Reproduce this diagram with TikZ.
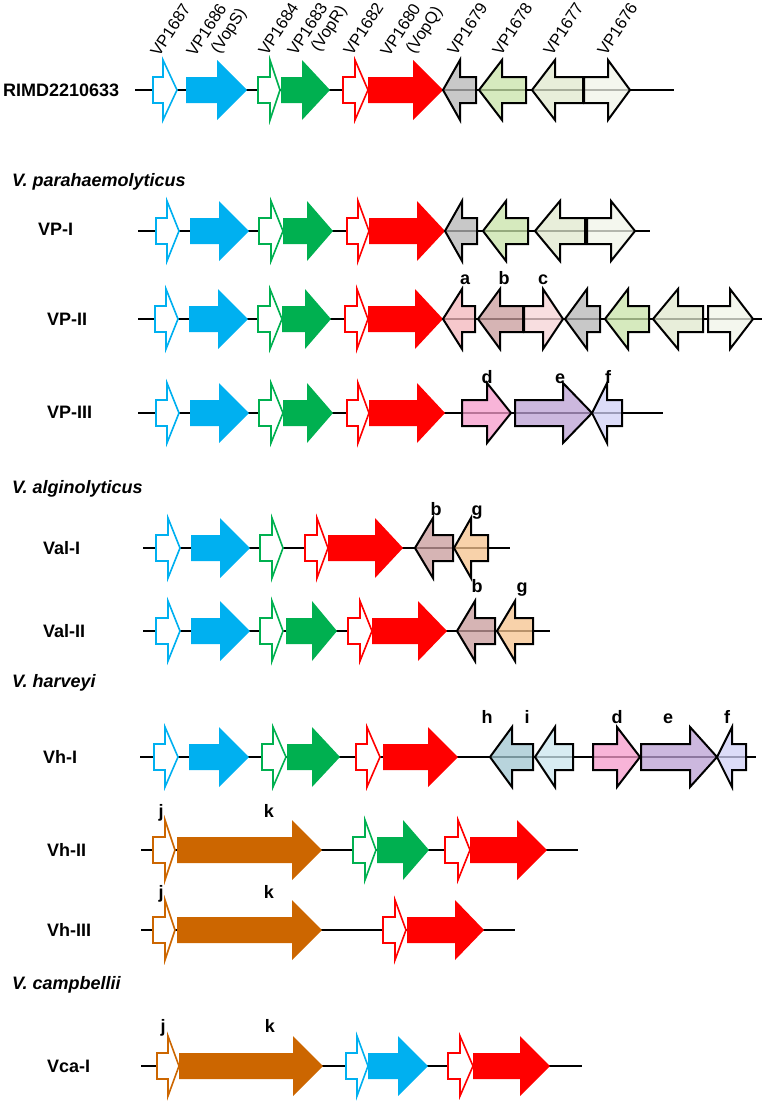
\documentclass[tikz,border=0pt]{standalone}
\usepackage{fontspec}
\setmainfont{Liberation Sans}
\definecolor{cblue}{RGB}{0,176,240}
\definecolor{cgreen}{RGB}{0,176,80}
\definecolor{cred}{RGB}{255,0,0}
\definecolor{corange}{RGB}{204,102,0}
\definecolor{cgray}{RGB}{182,182,182}
\definecolor{clgreen}{RGB}{200,227,168}
\definecolor{colive}{RGB}{224,232,206}
\definecolor{cwhite}{RGB}{240,244,232}
\definecolor{ca}{RGB}{243,182,187}
\definecolor{cb}{RGB}{200,155,155}
\definecolor{cc}{RGB}{246,211,214}
\definecolor{cd}{RGB}{246,155,203}
\definecolor{ce}{RGB}{187,160,211}
\definecolor{cf}{RGB}{208,208,246}
\definecolor{cg}{RGB}{246,195,142}
\definecolor{ch}{RGB}{160,198,208}
\definecolor{ci}{RGB}{203,230,238}
\newcommand{\genearr}[5][]{\draw[#1] (#2,#5-13) -- (#3,#5-13) -- (#3,#5-30) -- (#4,#5) -- (#3,#5+30) -- (#3,#5+13) -- (#2,#5+13) -- cycle;}
\tikzset{
  openarr/.style={draw=#1, fill=white, line width=1.6pt, line join=miter},
  solidarr/.style={fill=#1, draw=none},
  outlarr/.style={fill=#1, fill opacity=0.75, draw=black, line width=2pt, line join=miter},
  backbone/.style={draw=black, line width=2.5pt},
  genelbl/.style={rotate=57, anchor=base west, inner sep=0pt, font=\fontsize{16.5}{18}\selectfont},
  rowlbl/.style={anchor=west, inner sep=0pt, font=\bfseries\fontsize{18}{20}\selectfont},
  species/.style={anchor=west, inner sep=0pt, font=\bfseries\itshape\fontsize{18}{20}\selectfont},
  letterlbl/.style={anchor=base, inner sep=0pt, font=\bfseries\fontsize{18}{20}\selectfont}
}
\begin{document}
\begin{tikzpicture}[x=1pt,y=-1pt]
\useasboundingbox (0,0) rectangle (768,1103);

% ---------- gene labels ----------
\node[genelbl] (g1687) at (159,58) {VP1687};
\node[genelbl] (g1686) at (195,58) {VP1686};
\node[genelbl] (gvops) at (219,55) {(VopS)};
\node[genelbl] (g1684) at (267,57) {VP1684};
\node[genelbl] (g1683) at (296,57) {VP1683};
\node[genelbl] (gvopr) at (319,53) {(VopR)};
\node[genelbl] (g1682) at (352,57) {VP1682};
\node[genelbl] (g1680) at (389,58) {VP1680};
\node[genelbl] (gvopq) at (414,55) {(VopQ)};
\node[genelbl] (g1679) at (456,57) {VP1679};
\node[genelbl] (g1678) at (501,57) {VP1678};
\node[genelbl] (g1677) at (552,57) {VP1677};
\node[genelbl] (g1676) at (606,57) {VP1676};

% ---------- row / species labels ----------
\node[rowlbl] (rimd) at (3,90) {RIMD2210633};
\node[species] (spvp) at (12,182) {V. parahaemolyticus};
\node[rowlbl] (rvp1) at (38,229) {VP-I};
\node[rowlbl] (rvp2) at (47,319) {VP-II};
\node[rowlbl] (rvp3) at (47,412) {VP-III};
\node[species] (spva) at (12,489) {V. alginolyticus};
\node[rowlbl] (rval1) at (43,548) {Val-I};
\node[rowlbl] (rval2) at (43,631) {Val-II};
\node[species] (spvh) at (12,683) {V. harveyi};
\node[rowlbl] (rvh1) at (43,757) {Vh-I};
\node[rowlbl] (rvh2) at (47,850) {Vh-II};
\node[rowlbl] (rvh3) at (47,930) {Vh-III};
\node[species] (spvc) at (12,985) {V. campbellii};
\node[rowlbl] (rvca) at (47,1066) {Vca-I};

% ---------- RIMD2210633 ----------
\draw[backbone] (135,90) -- (674,90);
\genearr[solidarr=cblue]{186}{217}{247}{90}
\genearr[solidarr=cgreen]{281}{302}{330}{90}
\genearr[solidarr=cred]{368}{413}{443}{90}
\genearr[openarr=cblue]{153}{163}{177}{90}
\genearr[openarr=cgreen]{258}{270}{280}{90}
\genearr[openarr=cred]{343}{355}{368}{90}
\genearr[outlarr=cgray]{476}{460}{443}{90}
\genearr[outlarr=clgreen]{526}{502}{479}{90}
\genearr[outlarr=colive]{583}{555}{532}{90}
\genearr[outlarr=cwhite]{584}{608}{630}{90}

% ---------- VP-I ----------
\draw[backbone] (138,231) -- (650,231);
\genearr[solidarr=cblue]{190}{219}{249}{231}
\genearr[solidarr=cgreen]{283}{307}{333}{231}
\genearr[solidarr=cred]{369}{417}{445}{231}
\genearr[openarr=cblue]{156}{167}{179}{231}
\genearr[openarr=cgreen]{259}{271}{283}{231}
\genearr[openarr=cred]{347}{358}{369}{231}
\genearr[outlarr=cgray]{477}{462}{445}{231}
\genearr[outlarr=clgreen]{528}{506}{483}{231}
\genearr[outlarr=colive]{585}{560}{535}{231}
\genearr[outlarr=cwhite]{587}{611}{635}{231}

% ---------- VP-II ----------
\draw[backbone] (138,319) -- (762,319);
\genearr[solidarr=cblue]{189}{218}{248}{319}
\genearr[solidarr=cgreen]{282}{305}{331}{319}
\genearr[solidarr=cred]{368}{415}{443}{319}
\genearr[openarr=cblue]{155}{166}{178}{319}
\genearr[openarr=cgreen]{258}{270}{282}{319}
\genearr[openarr=cred]{345}{357}{368}{319}
\genearr[outlarr=ca]{475}{462}{443}{319}
\genearr[outlarr=cb]{523}{500}{478}{319}
\genearr[outlarr=cc]{524}{543}{563}{319}
\genearr[outlarr=cgray]{600}{587}{565}{319}
\genearr[outlarr=clgreen]{649}{628}{605}{319}
\genearr[outlarr=colive]{703}{678}{653}{319}
\genearr[outlarr=cwhite]{708}{730}{753}{319}
\node[letterlbl] (la) at (465,284) {a};
\node[letterlbl] (lb) at (504,284) {b};
\node[letterlbl] (lc) at (543,284) {c};

% ---------- VP-III ----------
\draw[backbone] (138,413) -- (663,413);
\genearr[solidarr=cblue]{190}{219}{249}{413}
\genearr[solidarr=cgreen]{283}{307}{333}{413}
\genearr[solidarr=cred]{369}{417}{445}{413}
\genearr[openarr=cblue]{156}{167}{179}{413}
\genearr[openarr=cgreen]{259}{271}{283}{413}
\genearr[openarr=cred]{347}{358}{369}{413}
\genearr[outlarr=cd]{462}{487}{511}{413}
\genearr[outlarr=ce]{515}{563}{592}{413}
\genearr[outlarr=cf]{622}{607}{592}{413}
\node[letterlbl] (ld) at (487,383) {d};
\node[letterlbl] (le) at (560,383) {e};
\node[letterlbl] (lf) at (608,383) {f};

% ---------- Val-I ----------
\draw[backbone] (143,548) -- (510,548);
\genearr[solidarr=cblue]{191}{220}{250}{548}
\genearr[solidarr=cred]{328}{375}{403}{548}
\genearr[openarr=cblue]{156}{168}{180}{548}
\genearr[openarr=cgreen]{260}{272}{283}{548}
\genearr[openarr=cred]{305}{317}{328}{548}
\genearr[outlarr=cb]{453}{433}{415}{548}
\genearr[outlarr=cg]{488}{471}{454}{548}
\node[letterlbl] (lb1) at (436,515) {b};
\node[letterlbl] (lg1) at (477,515) {g};

% ---------- Val-II ----------
\draw[backbone] (143,631) -- (550,631);
\genearr[solidarr=cblue]{191}{220}{250}{631}
\genearr[solidarr=cgreen]{286}{312}{337}{631}
\genearr[solidarr=cred]{372}{418}{447}{631}
\genearr[openarr=cblue]{156}{168}{180}{631}
\genearr[openarr=cgreen]{260}{272}{283}{631}
\genearr[openarr=cred]{348}{360}{372}{631}
\genearr[outlarr=cb]{495}{475}{457}{631}
\genearr[outlarr=cg]{533}{515}{497}{631}
\node[letterlbl] (lb2) at (477,592) {b};
\node[letterlbl] (lg2) at (522,592) {g};

% ---------- Vh-I ----------
\draw[backbone] (140,757) -- (756,757);
\genearr[solidarr=cblue]{189}{219}{249}{757}
\genearr[solidarr=cgreen]{287}{312}{340}{757}
\genearr[solidarr=cred]{383}{428}{458}{757}
\genearr[openarr=cblue]{154}{165}{178}{757}
\genearr[openarr=cgreen]{262}{273}{286}{757}
\genearr[openarr=cred]{356}{367}{380}{757}
\genearr[outlarr=ch]{533}{512}{490}{757}
\genearr[outlarr=ci]{573}{555}{535}{757}
\genearr[outlarr=cd]{593}{617}{640}{757}
\genearr[outlarr=ce]{641}{690}{717}{757}
\genearr[outlarr=cf]{746}{732}{717}{757}
\node[letterlbl] (lh) at (487,723) {h};
\node[letterlbl] (li) at (527,723) {i};
\node[letterlbl] (ld2) at (617,723) {d};
\node[letterlbl] (le2) at (668,723) {e};
\node[letterlbl] (lf2) at (727,723) {f};

% ---------- Vh-II ----------
\draw[backbone] (141,850) -- (578,850);
\genearr[solidarr=corange]{177}{292}{322}{850}
\genearr[solidarr=cgreen]{377}{403}{429}{850}
\genearr[solidarr=cred]{470}{517}{547}{850}
\genearr[openarr=corange]{153}{165}{175}{850}
\genearr[openarr=cgreen]{353}{365}{376}{850}
\genearr[openarr=cred]{445}{458}{470}{850}
\node[letterlbl] (lj1) at (161,817) {j};
\node[letterlbl] (lk1) at (269,817) {k};

% ---------- Vh-III ----------
\draw[backbone] (141,930) -- (515,930);
\genearr[solidarr=corange]{177}{292}{322}{930}
\genearr[solidarr=cred]{407}{455}{484}{930}
\genearr[openarr=corange]{153}{165}{175}{930}
\genearr[openarr=cred]{383}{395}{406}{930}
\node[letterlbl] (lj2) at (161,898) {j};
\node[letterlbl] (lk2) at (269,898) {k};

% ---------- Vca-I ----------
\draw[backbone] (141,1066) -- (582,1066);
\genearr[solidarr=corange]{179}{293}{323}{1066}
\genearr[solidarr=cblue]{368}{398}{428}{1066}
\genearr[solidarr=cred]{473}{520}{550}{1066}
\genearr[openarr=corange]{157}{168}{179}{1066}
\genearr[openarr=cblue]{346}{357}{368}{1066}
\genearr[openarr=cred]{448}{460}{473}{1066}
\node[letterlbl] (lj3) at (163,1032) {j};
\node[letterlbl] (lk3) at (270,1032) {k};
\end{tikzpicture}
\end{document}
